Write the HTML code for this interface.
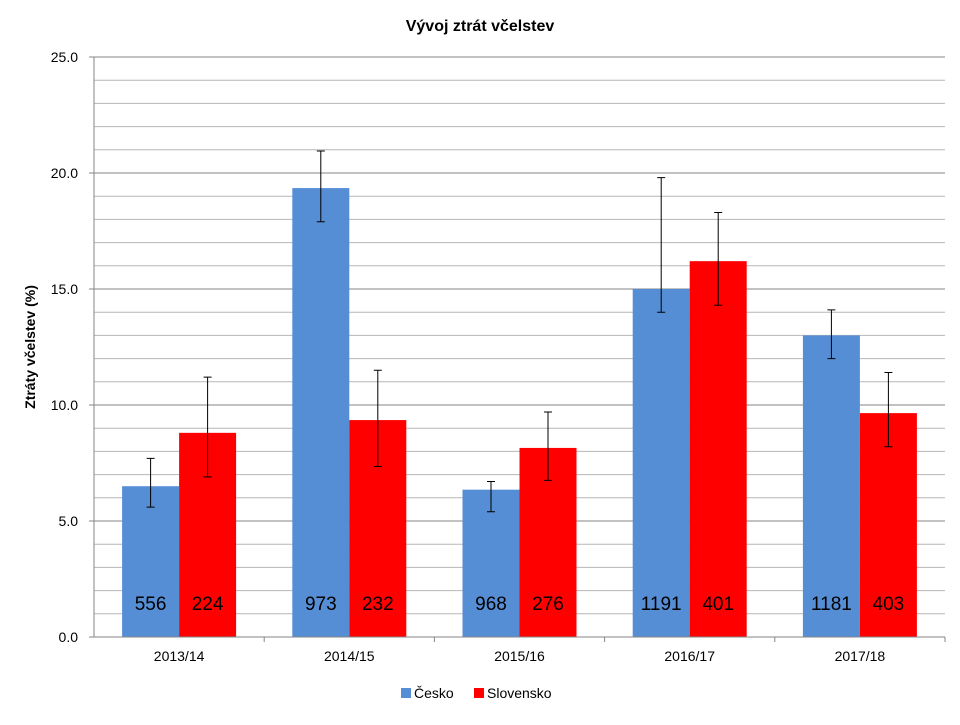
<!DOCTYPE html>
<html><head><meta charset="utf-8"><style>
body{margin:0;background:#fff;font-family:"Liberation Sans",sans-serif;}
svg text{font-family:"Liberation Sans",sans-serif;}
</style></head><body>
<svg id="c" width="960" height="720" xmlns="http://www.w3.org/2000/svg">
<text x="480" y="31" text-anchor="middle" font-size="16" font-weight="bold">Vývoj ztrát včelstev</text>
<text transform="translate(35,347) rotate(-90)" text-anchor="middle" font-size="14" font-weight="bold">Ztráty včelstev (%)</text>
<g id="grid"></g><g id="bars"></g><g id="axes"></g>
<g>
<rect x="401" y="688" width="10" height="10" fill="#558ed5"/>
<text x="414" y="698" font-size="14">Česko</text>
<rect x="474" y="688" width="10" height="10" fill="#ff0000"/>
<text x="487" y="698" font-size="14">Slovensko</text>
</g>
</svg>
<script>
const categories=["2013/14","2014/15","2015/16","2016/17","2017/18"];
const cesko=[6.5,19.35,6.35,15.0,13.0];
const ceskoHi=[7.7,20.95,6.7,19.8,14.1];
const ceskoLo=[5.6,17.9,5.4,14.0,12.0];
const ceskoN=[556,973,968,1191,1181];
const slovensko=[8.8,9.35,8.15,16.2,9.65];
const slovenskoHi=[11.2,11.5,9.7,18.3,11.4];
const slovenskoLo=[6.9,7.35,6.75,14.3,8.2];
const slovenskoN=[224,232,276,401,403];
const yTicks=["0.0","5.0","10.0","15.0","20.0","25.0"];
const NS="http://www.w3.org/2000/svg";
const L=94,R=945,T=57,B=637,YMAX=25;
const y=v=>B-(v/YMAX)*(B-T);
const cw=(R-L)/categories.length;
const x=i=>L+cw*i;
function mk(tag,attrs,parent){const e=document.createElementNS(NS,tag);for(const k in attrs)e.setAttribute(k,attrs[k]);parent.appendChild(e);return e;}
const grid=document.getElementById('grid'),bars=document.getElementById('bars'),axes=document.getElementById('axes');
for(let v=1;v<=YMAX;v++){
  const g=mk('line',{x1:L,x2:R,y1:y(v),y2:y(v),stroke:v%5===0?'#868686':'#b7b7b7','stroke-width':1},grid);
  
  
}
yTicks.forEach(t=>{
  const v=parseFloat(t);
  const tk=mk('line',{x1:L-5,x2:L,y1:y(v),y2:y(v),stroke:'#868686'},axes);
  
  
  const tx=mk('text',{x:L-16,y:y(v)+5,'text-anchor':'end','font-size':14},axes);
  tx.textContent=t;
  
  
});
const bw=57;
function series(vals,hi,lo,ns,color,off,name){
  vals.forEach((v,i)=>{
    const cx=x(i)+cw/2+off;
    const r=mk('rect',{x:cx-bw/2,y:y(v),width:bw,height:B-y(v),fill:color},bars);
    
    
    const e=mk('path',{d:`M${cx},${y(hi[i])}V${y(lo[i])}M${cx-4},${y(hi[i])}H${cx+4}M${cx-4},${y(lo[i])}H${cx+4}`,stroke:'#000','stroke-width':1,fill:'none'},bars);
    
    
    const t=mk('text',{x:cx,y:610,'text-anchor':'middle','font-size':19},bars);
    t.textContent=ns[i];
    
    
  });
}
series(cesko,ceskoHi,ceskoLo,ceskoN,'#558ed5',-bw/2,'cesko');
series(slovensko,slovenskoHi,slovenskoLo,slovenskoN,'#ff0000',bw/2,'slovensko');
const ax=mk('path',{d:`M${L},${T}V${B}H${R}`,stroke:'#868686',fill:'none'},axes);


categories.forEach((c,i)=>{
  const tk=mk('line',{x1:x(i+1),x2:x(i+1),y1:B,y2:B+5,stroke:'#868686'},axes);
  
  
  const t=mk('text',{x:x(i)+cw/2,y:B+24,'text-anchor':'middle','font-size':14},axes);
  t.textContent=c;
  
  
});
</script>
</body></html>
